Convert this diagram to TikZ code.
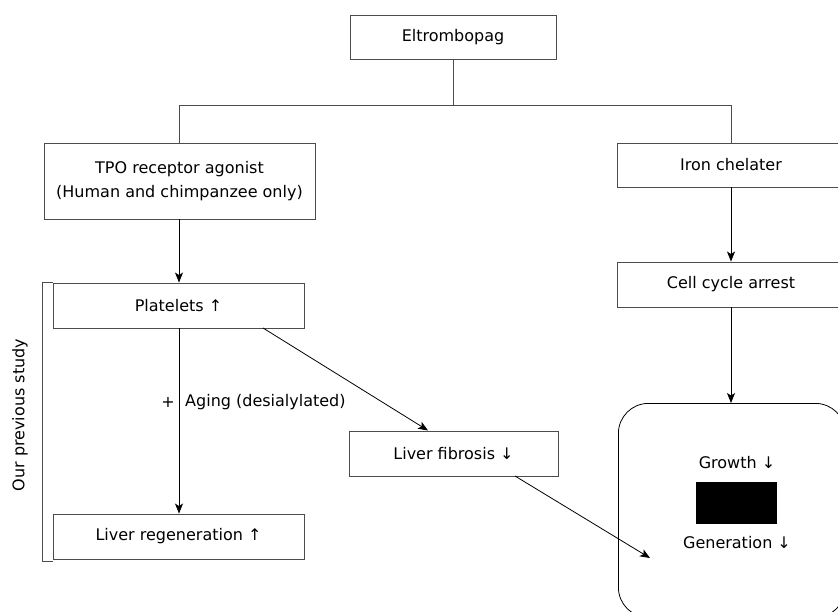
\documentclass[tikz,border=0pt]{standalone}
\usepackage{fontspec}
\setmainfont{DejaVu Sans}
\usetikzlibrary{arrows.meta}
\definecolor{lc}{gray}{0.3}
\begin{document}
\begin{tikzpicture}[x=1pt,y=-1pt,
  box/.style={draw=lc,line width=0.9pt,align=center,inner sep=0pt,font=\fontsize{16}{24}\selectfont},
  lab/.style={font=\fontsize{16}{19}\selectfont},
  conn/.style={draw=lc,line width=0.9pt},
  arr/.style={draw=black,line width=0.8pt,-{Stealth[length=10pt,width=8pt,inset=2.5pt]}}]
\useasboundingbox (0,0) rectangle (838,612);
\clip (0,0) rectangle (838,612);
\node[box,minimum width=206pt,minimum height=44pt] (elt) at (453,37) {Eltrombopag};
\node[box,minimum width=271pt,minimum height=76pt] (tpo) at (179.5,181) {TPO receptor agonist\\(Human and chimpanzee only)};
\node[box,minimum width=228pt,minimum height=44pt] (iron) at (731,165) {Iron chelater};
\node[box,minimum width=251pt,minimum height=45pt] (plt) at (178.5,305.5) {Platelets ↑};
\node[box,minimum width=228pt,minimum height=45pt] (cca) at (731,284.5) {Cell cycle arrest};
\node[box,minimum width=209pt,minimum height=45pt] (fib) at (453.5,453.5) {Liver fibrosis ↓};
\node[box,minimum width=251pt,minimum height=45pt] (reg) at (178.5,536.5) {Liver regeneration ↑};
\node[draw=black,line width=0.8pt,rounded corners=30pt,minimum width=227pt,minimum height=214pt,anchor=north west,inner sep=0pt] (res) at (618,403) {};
\node[lab] (gro) at (737,463) {Growth ↓};
\node[fill=black,minimum width=81pt,minimum height=42pt,inner sep=0pt] (blk) at (736.5,503) {};
\node[lab] (gen) at (737,543) {Generation ↓};
\node[lab,anchor=center] (plus) at (168,402) {+};
\node[lab,anchor=west,inner sep=0pt] (aging) at (185,402) {Aging (desialylated)};
\node[lab,rotate=90] (ours) at (20,415) {Our previous study};
\coordinate (hl) at (179,105);
\coordinate (hr) at (731,105);
\coordinate (hm) at (453,105);
\coordinate (tip) at (650,558);
\draw[conn] (elt.south) -- (hm);
\draw[conn] (hl) -- (hr);
\draw[conn] (hl) -- (hl|-tpo.north);
\draw[conn] (hr) -- (iron.north);
\draw[arr] (tpo.south-|hl) -- (plt.north-|hl);
\draw[arr] (iron.south) -- (cca.north);
\draw[arr] (cca.south) -- (res.north-|cca.south);
\draw[arr] (plt.south-|hl) -- (reg.north-|hl);
\draw[arr] (263,328) -- (428,430.5);
\draw[arr] (515,476) -- (tip);
\draw[lc,line width=0.9pt] (53,282) -- (42,282) -- (42,561) -- (53,561);
\end{tikzpicture}
\end{document}
